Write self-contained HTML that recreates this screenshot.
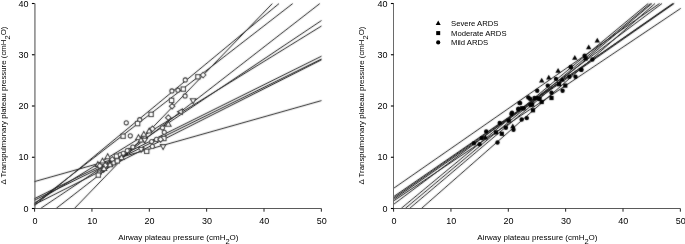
<!DOCTYPE html>
<html><head><meta charset="utf-8"><style>
html,body{margin:0;padding:0;background:#fff;}
svg{display:block;will-change:transform;}
text{font-family:"Liberation Sans",sans-serif;fill:#000;}
</style></head><body>
<svg width="685" height="244" viewBox="0 0 685 244" xmlns="http://www.w3.org/2000/svg">
<defs><filter id="bl" x="-1%" y="-1%" width="102%" height="102%"><feConvolveMatrix order="3" kernelMatrix="1 2 1 2 24 2 1 2 1" divisor="36" edgeMode="duplicate" preserveAlpha="false"/></filter></defs>
<rect width="685" height="244" fill="#fff"/>
<g filter="url(#bl)">
<path d="M272.3 3.6L74.5 208.4" stroke="#1a1a1a" stroke-width="1.0"/>
<path d="M279.0 3.6L34.5 205.6" stroke="#1a1a1a" stroke-width="1.0"/>
<path d="M292.7 3.6L34.5 203.8" stroke="#1a1a1a" stroke-width="1.0"/>
<path d="M319.8 3.6L56.2 208.4" stroke="#1a1a1a" stroke-width="1.0"/>
<path d="M321.5 20.5L40.7 208.4" stroke="#1a1a1a" stroke-width="1.0"/>
<path d="M321.5 26.0L34.5 203.0" stroke="#1a1a1a" stroke-width="1.0"/>
<path d="M321.5 56.2L34.5 198.6" stroke="#1a1a1a" stroke-width="1.0"/>
<path d="M321.5 59.0L34.5 200.2" stroke="#1a1a1a" stroke-width="1.0"/>
<path d="M321.5 59.8L34.5 204.5" stroke="#1a1a1a" stroke-width="1.0"/>
<path d="M321.5 100.6L34.5 181.6" stroke="#1a1a1a" stroke-width="1.0"/>
<path d="M393.8 188.2L659.5 3.5" stroke="#1a1a1a" stroke-width="1.0"/>
<path d="M393.8 196.5L673.5 3.5" stroke="#1a1a1a" stroke-width="1.0"/>
<path d="M393.8 197.9L672.8 3.5" stroke="#1a1a1a" stroke-width="1.0"/>
<path d="M393.8 199.3L674.2 3.5" stroke="#1a1a1a" stroke-width="1.0"/>
<path d="M393.8 200.8L680.7 8.4" stroke="#1a1a1a" stroke-width="1.0"/>
<path d="M393.8 204.2L662.0 3.5" stroke="#1a1a1a" stroke-width="1.0"/>
<path d="M401.2 208.4L648.2 3.5" stroke="#1a1a1a" stroke-width="1.0"/>
<path d="M405.3 208.4L650.5 3.5" stroke="#1a1a1a" stroke-width="1.0"/>
<path d="M409.6 208.4L652.0 3.5" stroke="#1a1a1a" stroke-width="1.0"/>
<path d="M421.5 208.4L655.0 3.5" stroke="#1a1a1a" stroke-width="1.0"/>
<circle cx="185.30" cy="79.90" r="2.05" fill="#fff" stroke="#2a2a2a" stroke-width="1.05"/>
<rect x="195.75" y="74.65" width="4.30" height="4.30" fill="#fff" stroke="#2a2a2a" stroke-width="1.05"/>
<path d="M203.10 72.25L205.85 75.00L203.10 77.75L200.35 75.00Z" fill="#fff" stroke="#2a2a2a" stroke-width="1.05"/>
<circle cx="177.90" cy="90.20" r="2.05" fill="#fff" stroke="#2a2a2a" stroke-width="1.05"/>
<rect x="181.15" y="86.95" width="4.30" height="4.30" fill="#fff" stroke="#2a2a2a" stroke-width="1.05"/>
<circle cx="171.90" cy="90.90" r="2.05" fill="#fff" stroke="#2a2a2a" stroke-width="1.05"/>
<circle cx="185.10" cy="95.90" r="2.05" fill="#fff" stroke="#2a2a2a" stroke-width="1.05"/>
<rect x="169.45" y="98.25" width="4.30" height="4.30" fill="#fff" stroke="#2a2a2a" stroke-width="1.05"/>
<path d="M172.10 103.45L174.85 106.20L172.10 108.95L169.35 106.20Z" fill="#fff" stroke="#2a2a2a" stroke-width="1.05"/>
<path d="M193.10 103.65L195.85 98.84L190.35 98.84Z" fill="#fff" stroke="#2a2a2a" stroke-width="1.05"/>
<path d="M177.55 111.70L182.36 108.95L182.36 114.45Z" fill="#fff" stroke="#2a2a2a" stroke-width="1.05"/>
<rect x="148.95" y="112.25" width="4.30" height="4.30" fill="#fff" stroke="#2a2a2a" stroke-width="1.05"/>
<circle cx="139.70" cy="119.70" r="2.05" fill="#fff" stroke="#2a2a2a" stroke-width="1.05"/>
<rect x="135.45" y="121.45" width="4.30" height="4.30" fill="#fff" stroke="#2a2a2a" stroke-width="1.05"/>
<circle cx="126.30" cy="122.80" r="2.05" fill="#fff" stroke="#2a2a2a" stroke-width="1.05"/>
<path d="M168.30 114.95L171.05 117.70L168.30 120.45L165.55 117.70Z" fill="#fff" stroke="#2a2a2a" stroke-width="1.05"/>
<path d="M168.30 121.35L171.05 126.16L165.55 126.16Z" fill="#fff" stroke="#2a2a2a" stroke-width="1.05"/>
<path d="M152.50 126.05L155.25 128.80L152.50 131.55L149.75 128.80Z" fill="#fff" stroke="#2a2a2a" stroke-width="1.05"/>
<circle cx="162.50" cy="127.80" r="2.05" fill="#fff" stroke="#2a2a2a" stroke-width="1.05"/>
<circle cx="164.30" cy="132.20" r="2.05" fill="#fff" stroke="#2a2a2a" stroke-width="1.05"/>
<rect x="120.95" y="134.05" width="4.30" height="4.30" fill="#fff" stroke="#2a2a2a" stroke-width="1.05"/>
<circle cx="130.30" cy="135.80" r="2.05" fill="#fff" stroke="#2a2a2a" stroke-width="1.05"/>
<path d="M149.20 128.15L151.95 132.96L146.45 132.96Z" fill="#fff" stroke="#2a2a2a" stroke-width="1.05"/>
<path d="M138.50 134.75L141.25 139.56L135.75 139.56Z" fill="#fff" stroke="#2a2a2a" stroke-width="1.05"/>
<path d="M143.80 131.45L146.55 136.26L141.05 136.26Z" fill="#fff" stroke="#2a2a2a" stroke-width="1.05"/>
<path d="M141.00 137.15L143.75 141.96L138.25 141.96Z" fill="#fff" stroke="#2a2a2a" stroke-width="1.05"/>
<path d="M144.70 143.05L147.45 138.24L141.95 138.24Z" fill="#fff" stroke="#2a2a2a" stroke-width="1.05"/>
<rect x="161.75" y="136.35" width="4.30" height="4.30" fill="#fff" stroke="#2a2a2a" stroke-width="1.05"/>
<circle cx="151.60" cy="141.50" r="2.05" fill="#fff" stroke="#2a2a2a" stroke-width="1.05"/>
<circle cx="156.50" cy="139.40" r="2.05" fill="#fff" stroke="#2a2a2a" stroke-width="1.05"/>
<path d="M160.60 136.65L163.35 139.40L160.60 142.15L157.85 139.40Z" fill="#fff" stroke="#2a2a2a" stroke-width="1.05"/>
<circle cx="152.40" cy="146.40" r="2.05" fill="#fff" stroke="#2a2a2a" stroke-width="1.05"/>
<rect x="144.55" y="149.15" width="4.30" height="4.30" fill="#fff" stroke="#2a2a2a" stroke-width="1.05"/>
<path d="M163.10 149.45L165.85 144.64L160.35 144.64Z" fill="#fff" stroke="#2a2a2a" stroke-width="1.05"/>
<circle cx="132.80" cy="147.00" r="2.05" fill="#fff" stroke="#2a2a2a" stroke-width="1.05"/>
<circle cx="128.80" cy="150.20" r="2.05" fill="#fff" stroke="#2a2a2a" stroke-width="1.05"/>
<path d="M141.10 152.25L143.85 147.44L138.35 147.44Z" fill="#fff" stroke="#2a2a2a" stroke-width="1.05"/>
<path d="M107.70 153.85L110.45 158.66L104.95 158.66Z" fill="#fff" stroke="#2a2a2a" stroke-width="1.05"/>
<path d="M102.50 158.25L105.25 163.06L99.75 163.06Z" fill="#fff" stroke="#2a2a2a" stroke-width="1.05"/>
<path d="M97.90 161.65L100.65 166.46L95.15 166.46Z" fill="#fff" stroke="#2a2a2a" stroke-width="1.05"/>
<path d="M112.30 156.65L115.05 159.40L112.30 162.15L109.55 159.40Z" fill="#fff" stroke="#2a2a2a" stroke-width="1.05"/>
<rect x="114.35" y="153.95" width="4.30" height="4.30" fill="#fff" stroke="#2a2a2a" stroke-width="1.05"/>
<circle cx="120.30" cy="154.60" r="2.05" fill="#fff" stroke="#2a2a2a" stroke-width="1.05"/>
<path d="M105.30 162.65L108.05 165.40L105.30 168.15L102.55 165.40Z" fill="#fff" stroke="#2a2a2a" stroke-width="1.05"/>
<path d="M110.00 161.95L112.75 166.76L107.25 166.76Z" fill="#fff" stroke="#2a2a2a" stroke-width="1.05"/>
<path d="M103.60 166.65L106.35 169.40L103.60 172.15L100.85 169.40Z" fill="#fff" stroke="#2a2a2a" stroke-width="1.05"/>
<circle cx="99.30" cy="172.90" r="2.05" fill="#fff" stroke="#2a2a2a" stroke-width="1.05"/>
<rect x="96.15" y="172.95" width="4.30" height="4.30" fill="#fff" stroke="#2a2a2a" stroke-width="1.05"/>
<path d="M104.00 165.75L106.75 170.56L101.25 170.56Z" fill="#fff" stroke="#2a2a2a" stroke-width="1.05"/>
<circle cx="123.30" cy="153.20" r="2.05" fill="#fff" stroke="#2a2a2a" stroke-width="1.05"/>
<circle cx="127.30" cy="150.60" r="2.05" fill="#fff" stroke="#2a2a2a" stroke-width="1.05"/>
<path d="M121.50 154.65L124.25 159.46L118.75 159.46Z" fill="#fff" stroke="#2a2a2a" stroke-width="1.05"/>
<path d="M99.80 163.15L102.55 165.90L99.80 168.65L97.05 165.90Z" fill="#fff" stroke="#2a2a2a" stroke-width="1.05"/>
<circle cx="113.80" cy="162.90" r="2.05" fill="#fff" stroke="#2a2a2a" stroke-width="1.05"/>
<rect x="115.15" y="158.75" width="4.30" height="4.30" fill="#fff" stroke="#2a2a2a" stroke-width="1.05"/>
<circle cx="520.20" cy="103.10" r="2.2" fill="#000" stroke="none" stroke-width="0.9"/>
<circle cx="518.20" cy="109.20" r="2.2" fill="#000" stroke="none" stroke-width="0.9"/>
<circle cx="523.70" cy="108.20" r="2.2" fill="#000" stroke="none" stroke-width="0.9"/>
<circle cx="530.90" cy="105.10" r="2.2" fill="#000" stroke="none" stroke-width="0.9"/>
<rect x="530.90" y="108.20" width="4.20" height="4.20" fill="#000" stroke="none" stroke-width="0.9"/>
<circle cx="511.40" cy="113.90" r="2.2" fill="#000" stroke="none" stroke-width="0.9"/>
<rect x="506.60" y="118.40" width="4.20" height="4.20" fill="#000" stroke="none" stroke-width="0.9"/>
<circle cx="499.70" cy="123.00" r="2.2" fill="#000" stroke="none" stroke-width="0.9"/>
<circle cx="521.70" cy="119.50" r="2.2" fill="#000" stroke="none" stroke-width="0.9"/>
<circle cx="526.80" cy="118.10" r="2.2" fill="#000" stroke="none" stroke-width="0.9"/>
<path d="M512.80 123.60L515.50 128.32L510.10 128.32Z" fill="#000" stroke="none" stroke-width="0.9"/>
<circle cx="505.90" cy="127.70" r="2.2" fill="#000" stroke="none" stroke-width="0.9"/>
<circle cx="513.50" cy="129.70" r="2.2" fill="#000" stroke="none" stroke-width="0.9"/>
<circle cx="486.20" cy="131.40" r="2.2" fill="#000" stroke="none" stroke-width="0.9"/>
<rect x="493.90" y="130.30" width="4.20" height="4.20" fill="#000" stroke="none" stroke-width="0.9"/>
<rect x="499.70" y="131.70" width="4.20" height="4.20" fill="#000" stroke="none" stroke-width="0.9"/>
<circle cx="481.70" cy="138.00" r="2.2" fill="#000" stroke="none" stroke-width="0.9"/>
<path d="M485.50 134.80L488.20 139.53L482.80 139.53Z" fill="#000" stroke="none" stroke-width="0.9"/>
<circle cx="473.90" cy="143.30" r="2.2" fill="#000" stroke="none" stroke-width="0.9"/>
<circle cx="479.60" cy="144.20" r="2.2" fill="#000" stroke="none" stroke-width="0.9"/>
<circle cx="497.50" cy="142.50" r="2.2" fill="#000" stroke="none" stroke-width="0.9"/>
<path d="M558.10 68.00L560.80 72.73L555.40 72.73Z" fill="#000" stroke="none" stroke-width="0.9"/>
<circle cx="570.80" cy="67.20" r="2.2" fill="#000" stroke="none" stroke-width="0.9"/>
<circle cx="581.10" cy="69.80" r="2.2" fill="#000" stroke="none" stroke-width="0.9"/>
<path d="M548.80 74.70L551.50 79.43L546.10 79.43Z" fill="#000" stroke="none" stroke-width="0.9"/>
<path d="M541.70 77.80L544.40 82.53L539.00 82.53Z" fill="#000" stroke="none" stroke-width="0.9"/>
<circle cx="556.00" cy="78.90" r="2.2" fill="#000" stroke="none" stroke-width="0.9"/>
<path d="M562.20 76.80L564.90 81.53L559.50 81.53Z" fill="#000" stroke="none" stroke-width="0.9"/>
<circle cx="569.40" cy="76.80" r="2.2" fill="#000" stroke="none" stroke-width="0.9"/>
<circle cx="575.50" cy="76.80" r="2.2" fill="#000" stroke="none" stroke-width="0.9"/>
<circle cx="547.80" cy="85.60" r="2.2" fill="#000" stroke="none" stroke-width="0.9"/>
<rect x="557.00" y="82.10" width="4.20" height="4.20" fill="#000" stroke="none" stroke-width="0.9"/>
<rect x="563.20" y="83.50" width="4.20" height="4.20" fill="#000" stroke="none" stroke-width="0.9"/>
<circle cx="562.60" cy="90.80" r="2.2" fill="#000" stroke="none" stroke-width="0.9"/>
<circle cx="537.20" cy="90.80" r="2.2" fill="#000" stroke="none" stroke-width="0.9"/>
<circle cx="528.30" cy="97.50" r="2.2" fill="#000" stroke="none" stroke-width="0.9"/>
<circle cx="534.50" cy="97.90" r="2.2" fill="#000" stroke="none" stroke-width="0.9"/>
<rect x="537.50" y="96.90" width="4.20" height="4.20" fill="#000" stroke="none" stroke-width="0.9"/>
<circle cx="551.50" cy="92.80" r="2.2" fill="#000" stroke="none" stroke-width="0.9"/>
<rect x="549.40" y="95.90" width="4.20" height="4.20" fill="#000" stroke="none" stroke-width="0.9"/>
<circle cx="519.50" cy="103.00" r="2.2" fill="#000" stroke="none" stroke-width="0.9"/>
<circle cx="530.40" cy="105.10" r="2.2" fill="#000" stroke="none" stroke-width="0.9"/>
<rect x="539.60" y="99.90" width="4.20" height="4.20" fill="#000" stroke="none" stroke-width="0.9"/>
<rect x="520.10" y="106.10" width="4.20" height="4.20" fill="#000" stroke="none" stroke-width="0.9"/>
<path d="M597.30 37.70L600.00 42.42L594.60 42.42Z" fill="#000" stroke="none" stroke-width="0.9"/>
<path d="M588.70 44.50L591.40 49.23L586.00 49.23Z" fill="#000" stroke="none" stroke-width="0.9"/>
<path d="M574.80 55.10L577.50 59.82L572.10 59.82Z" fill="#000" stroke="none" stroke-width="0.9"/>
<circle cx="584.60" cy="55.80" r="2.2" fill="#000" stroke="none" stroke-width="0.9"/>
<rect x="583.50" y="56.40" width="4.20" height="4.20" fill="#000" stroke="none" stroke-width="0.9"/>
<circle cx="592.40" cy="59.50" r="2.2" fill="#000" stroke="none" stroke-width="0.9"/>
<circle cx="570.70" cy="67.00" r="2.2" fill="#000" stroke="none" stroke-width="0.9"/>
<circle cx="581.50" cy="69.70" r="2.2" fill="#000" stroke="none" stroke-width="0.9"/>
<circle cx="512.00" cy="112.70" r="2.2" fill="#000" stroke="none" stroke-width="0.9"/>
<circle cx="518.50" cy="108.60" r="2.2" fill="#000" stroke="none" stroke-width="0.9"/>
<circle cx="536.60" cy="98.00" r="2.2" fill="#000" stroke="none" stroke-width="0.9"/>
<circle cx="530.00" cy="98.80" r="2.2" fill="#000" stroke="none" stroke-width="0.9"/>
<rect x="530.00" y="102.40" width="4.20" height="4.20" fill="#000" stroke="none" stroke-width="0.9"/>
</g>
<path d="M34.95 3.50V208.50" fill="none" stroke="#484848" stroke-width="1"/>
<path d="M34.10 208.50H321.35" fill="none" stroke="#5a5a5a" stroke-width="1"/>
<path d="M31.90 208.50H34.60" stroke="#000" stroke-width="1.1"/>
<text x="28.50" y="211.70" text-anchor="end" font-size="9">0</text>
<path d="M31.90 157.25H34.60" stroke="#000" stroke-width="1.1"/>
<text x="28.50" y="160.45" text-anchor="end" font-size="9">10</text>
<path d="M31.90 106.00H34.60" stroke="#000" stroke-width="1.1"/>
<text x="28.50" y="109.20" text-anchor="end" font-size="9">20</text>
<path d="M31.90 54.75H34.60" stroke="#000" stroke-width="1.1"/>
<text x="28.50" y="57.95" text-anchor="end" font-size="9">30</text>
<path d="M31.90 3.50H34.60" stroke="#000" stroke-width="1.1"/>
<text x="28.50" y="6.70" text-anchor="end" font-size="9">40</text>
<path d="M34.60 208.50V211.70" stroke="#222" stroke-width="1"/>
<text x="34.90" y="224" text-anchor="middle" font-size="9">0</text>
<path d="M91.95 208.50V211.70" stroke="#222" stroke-width="1"/>
<text x="92.25" y="224" text-anchor="middle" font-size="9">10</text>
<path d="M149.30 208.50V211.70" stroke="#222" stroke-width="1"/>
<text x="149.60" y="224" text-anchor="middle" font-size="9">20</text>
<path d="M206.65 208.50V211.70" stroke="#222" stroke-width="1"/>
<text x="206.95" y="224" text-anchor="middle" font-size="9">30</text>
<path d="M264.00 208.50V211.70" stroke="#222" stroke-width="1"/>
<text x="264.30" y="224" text-anchor="middle" font-size="9">40</text>
<path d="M321.35 208.50V211.70" stroke="#222" stroke-width="1"/>
<text x="321.65" y="224" text-anchor="middle" font-size="9">50</text>
<text x="178.38" y="239.8" text-anchor="middle" font-size="8">Airway plateau pressure (cmH<tspan font-size="7.5" dy="4">2</tspan><tspan dy="-4">O)</tspan></text>
<text transform="translate(6.30,105.50) rotate(-90)" text-anchor="middle" font-size="7.85">Δ Transpulmonary plateau pressure (cmH<tspan font-size="7.5" dy="3.2">2</tspan><tspan dy="-3.2">O)</tspan></text>
<path d="M393.5 3.50V208.50" fill="none" stroke="#6a6a6a" stroke-width="1"/>
<path d="M393.10 208.50H680.35" fill="none" stroke="#5a5a5a" stroke-width="1"/>
<path d="M390.90 208.50H393.60" stroke="#000" stroke-width="1.1"/>
<text x="387.50" y="211.70" text-anchor="end" font-size="9">0</text>
<path d="M390.90 157.25H393.60" stroke="#000" stroke-width="1.1"/>
<text x="387.50" y="160.45" text-anchor="end" font-size="9">10</text>
<path d="M390.90 106.00H393.60" stroke="#000" stroke-width="1.1"/>
<text x="387.50" y="109.20" text-anchor="end" font-size="9">20</text>
<path d="M390.90 54.75H393.60" stroke="#000" stroke-width="1.1"/>
<text x="387.50" y="57.95" text-anchor="end" font-size="9">30</text>
<path d="M390.90 3.50H393.60" stroke="#000" stroke-width="1.1"/>
<text x="387.50" y="6.70" text-anchor="end" font-size="9">40</text>
<path d="M393.60 208.50V211.70" stroke="#222" stroke-width="1"/>
<text x="393.90" y="224" text-anchor="middle" font-size="9">0</text>
<path d="M450.95 208.50V211.70" stroke="#222" stroke-width="1"/>
<text x="451.25" y="224" text-anchor="middle" font-size="9">10</text>
<path d="M508.30 208.50V211.70" stroke="#222" stroke-width="1"/>
<text x="508.60" y="224" text-anchor="middle" font-size="9">20</text>
<path d="M565.65 208.50V211.70" stroke="#222" stroke-width="1"/>
<text x="565.95" y="224" text-anchor="middle" font-size="9">30</text>
<path d="M623.00 208.50V211.70" stroke="#222" stroke-width="1"/>
<text x="623.30" y="224" text-anchor="middle" font-size="9">40</text>
<path d="M680.35 208.50V211.70" stroke="#222" stroke-width="1"/>
<text x="680.65" y="224" text-anchor="middle" font-size="9">50</text>
<text x="537.38" y="239.8" text-anchor="middle" font-size="8">Airway plateau pressure (cmH<tspan font-size="7.5" dy="4">2</tspan><tspan dy="-4">O)</tspan></text>
<text transform="translate(364.30,105.50) rotate(-90)" text-anchor="middle" font-size="7.85">Δ Transpulmonary plateau pressure (cmH<tspan font-size="7.5" dy="3.2">2</tspan><tspan dy="-3.2">O)</tspan></text>
<path d="M435.7 25H440.7L438.2 20.4Z" fill="#000"/>
<rect x="436.2" y="31.1" width="4" height="4" fill="#000"/>
<circle cx="438.2" cy="42.4" r="2.1" fill="#000"/>
<text x="451" y="26.4" font-size="7.7">Severe ARDS</text>
<text x="451" y="36.0" font-size="7.7">Moderate ARDS</text>
<text x="451" y="44.8" font-size="7.7">Mild ARDS</text>
</svg>
</body></html>
